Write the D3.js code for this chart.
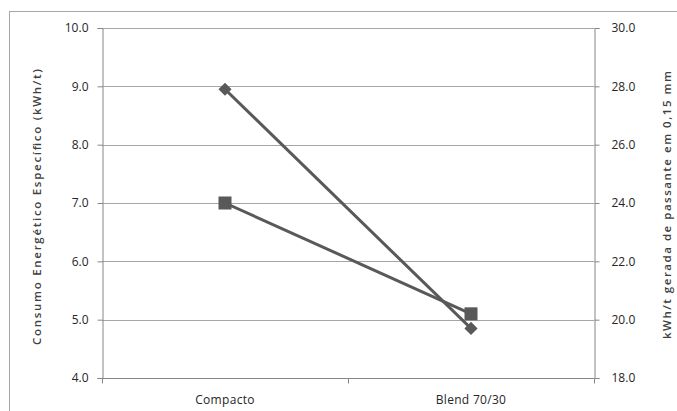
<!DOCTYPE html>
<html><head><meta charset="utf-8">
<script src="https://cdn.jsdelivr.net/npm/d3@7"></script>
<style>body{margin:0;background:#fff}svg{display:block}</style>
</head><body>
<script>
const categories = ["Compacto", "Blend 70/30"];
const consumo = [7.0, 5.1];          // left axis, square markers
const gerada = [27.9, 19.7];         // right axis, diamond markers
const leftTicks = [4, 5, 6, 7, 8, 9, 10];
const rightTicks = [18, 20, 22, 24, 26, 28, 30];
const leftTitle = "Consumo Energético Específico  (kWh/t)";
const rightTitle = "kWh/t gerada de passante em 0,15 mm";

const W = 677, H = 411;
const L = 102, R = 594, T = 28, B = 378;
const svg = d3.select("body").append("svg").attr("width", W).attr("height", H);
const font = "'Open Sans', 'DejaVu Sans', sans-serif";

svg.append("rect").attr("x", 9.5).attr("y", 11.5).attr("width", W).attr("height", H)
  .attr("fill", "none").attr("stroke", "#a6a6a6");

const x = d3.scaleBand().domain(categories).range([L, R]);
const yL = d3.scaleLinear().domain([4, 10]).range([B, T]);
const yR = d3.scaleLinear().domain([18, 30]).range([B, T]);

// gridlines
svg.append("g").selectAll("line").data(leftTicks.slice(1)).join("line")
  .attr("x1", L).attr("x2", R).attr("y1", d => Math.round(yL(d)) + 0.5).attr("y2", d => Math.round(yL(d)) + 0.5)
  .attr("stroke", "#a6a6a6").attr("stroke-width", 1);

const styleAxis = g => {
  g.select(".domain").attr("stroke", "#868686");
  g.selectAll(".tick line").attr("stroke", "#868686");
  g.selectAll("text").attr("fill", "#262626").style("font-family", font).style("font-size", "12px");
};

svg.append("g").attr("transform", `translate(${L + 0.5},0)`)
  .call(d3.axisLeft(yL).tickValues(leftTicks).tickFormat(d3.format(".1f")).tickSizeOuter(0).tickSize(5).tickPadding(9))
  .call(styleAxis);
svg.append("g").attr("transform", `translate(${R + 0.5},0)`)
  .call(d3.axisRight(yR).tickValues(rightTicks).tickFormat(d3.format(".1f")).tickSizeOuter(0).tickSize(5).tickPadding(12))
  .call(styleAxis);

// x axis
const gx = svg.append("g").attr("transform", `translate(0,${B + 0.5})`)
  .call(d3.axisBottom(x).tickSize(0).tickPadding(17))
  .call(styleAxis);
gx.select(".domain").attr("d", `M${L},0H${R}`);
gx.selectAll("text").attr("letter-spacing", "0.3px");
gx.selectAll(".bt").data([L, (L + R) / 2, R]).join("line").attr("class", "bt")
  .attr("x1", d => Math.round(d) + 0.5).attr("x2", d => Math.round(d) + 0.5).attr("y1", 0).attr("y2", 5)
  .attr("stroke", "#868686");

const cx = d => x(d) + x.bandwidth() / 2;
const col = "#595959";

// series lines
const lineL = d3.line().x((d, i) => cx(categories[i])).y(d => yL(d));
const lineR = d3.line().x((d, i) => cx(categories[i])).y(d => yR(d));
svg.append("path").attr("d", lineR(gerada)).attr("fill", "none").attr("stroke", col).attr("stroke-width", 3);
svg.append("path").attr("d", lineL(consumo)).attr("fill", "none").attr("stroke", col).attr("stroke-width", 3);

// markers
svg.append("g").selectAll("path").data(gerada).join("path")
  .attr("transform", (d, i) => `translate(${cx(categories[i])},${yR(d)})`)
  .attr("d", d3.symbol().type(d3.symbolDiamond2).size(110)).attr("fill", col);
svg.append("g").selectAll("rect").data(consumo).join("rect")
  .attr("x", (d, i) => cx(categories[i]) - 6.5).attr("y", d => yL(d) - 6.5)
  .attr("width", 13).attr("height", 13).attr("fill", col);

// titles
svg.append("text").attr("transform", `translate(41,${(T + B) / 2 + 4}) rotate(-90)`)
  .attr("text-anchor", "middle").style("font-family", font).style("font-size", "11.5px")
  .attr("textLength", 276).attr("lengthAdjust", "spacing")
  .style("font-weight", "600").attr("fill", "#404040").text(leftTitle);
svg.append("text").attr("transform", `translate(671,${(T + B) / 2 + 2}) rotate(-90)`)
  .attr("text-anchor", "middle").style("font-family", font).style("font-size", "11.5px")
  .attr("textLength", 268).attr("lengthAdjust", "spacing")
  .style("font-weight", "600").attr("fill", "#404040").text(rightTitle);
</script>
</body></html>
